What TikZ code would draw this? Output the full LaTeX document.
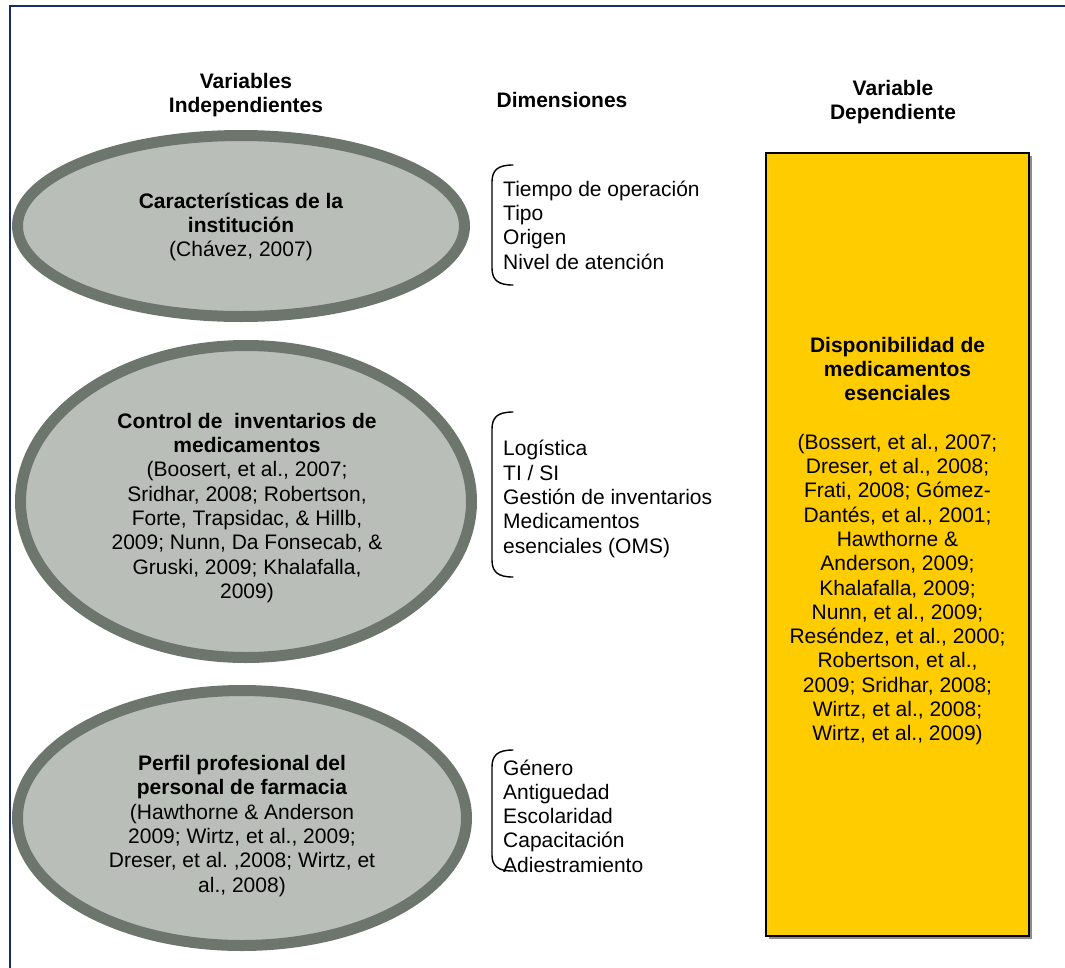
\documentclass[tikz,border=0pt]{standalone}
\usepackage{fontspec}
\setmainfont{Liberation Sans}
\usetikzlibrary{shapes.geometric}
\definecolor{framenavy}{RGB}{24,42,110}
\definecolor{ovalfill}{RGB}{186,190,185}
\definecolor{ovaledge}{RGB}{108,118,108}
\definecolor{boxyellow}{RGB}{255,204,0}
\frenchspacing
\begin{document}
\begin{tikzpicture}[x=1pt,y=-1pt,
  txt/.style={font=\fontsize{21}{24.3}\selectfont, inner sep=0pt, align=center},
  listtxt/.style={font=\fontsize{21}{24.3}\selectfont, inner sep=0pt, align=left, anchor=west},
  oval/.style={ellipse, draw=ovaledge, fill=ovalfill, line width=11pt, inner sep=0pt},
  depbox/.style={rectangle, draw=black, fill=boxyellow, line width=1.5pt, inner sep=0pt,
    minimum width=263pt, minimum height=783pt},
  bracketline/.style={draw=black, line width=1.4pt, line cap=round}
]
\useasboundingbox (0,0) rectangle (1065,967);
% outer frame (open at right and bottom)
\draw[framenavy, line width=2.2pt] (10,980) -- (10,6) -- (1080,6);

% column headings
\node[txt, font=\fontsize{21}{24.3}\selectfont\bfseries] (hind) at (246,95) {Variables\\Independientes};
\node[txt, font=\fontsize{21}{24.3}\selectfont\bfseries] (hdim) at (562,100) {Dimensiones};
\node[txt, font=\fontsize{21}{24.3}\selectfont\bfseries] (hdep) at (893,102) {Variable\\Dependiente};

% independent variables
\node[oval, minimum width=447pt, minimum height=181pt] (inst) at (241,226) {};
\node[txt] (instlbl) at (241,227) {\textbf{Características de la}\\\textbf{institución}\\(Chávez, 2007)};

\node[oval, minimum width=451pt, minimum height=312pt] (inv) at (246,501.5) {};
\node[txt] (invlbl) at (247,508) {\textbf{Control de\ \ inventarios de}\\\textbf{medicamentos}\\(Boosert, et al., 2007;\\Sridhar, 2008; Robertson,\\Forte, Trapsidac, \& Hillb,\\2009; Nunn, Da Fonsecab, \&\\Gruski, 2009; Khalafalla,\\2009)};

\node[oval, minimum width=449pt, minimum height=255pt] (perf) at (242,818) {};
\node[txt] (perflbl) at (242,826) {\textbf{Perfil profesional del}\\\textbf{personal de farmacia}\\(Hawthorne \& Anderson\\2009; Wirtz, et al., 2009;\\Dreser, et al. ,2008; Wirtz, et\\al., 2008)};

% dimensions with their brackets
\draw[bracketline] (513,165) .. controls (498,165) and (492,170) .. (492,182) -- (492,268) .. controls (492,280) and (498,285) .. (513,285);
\node[listtxt] (dim1) at (503,225) {Tiempo de operación\\Tipo\\Origen\\Nivel de atención};

\draw[bracketline] (513,412) .. controls (498,412) and (492,417) .. (492,429) -- (492,560) .. controls (492,572) and (498,577) .. (513,577);
\node[listtxt] (dim2) at (503,499) {Logística\\TI / SI\\Gestión de inventarios\\Medicamentos\\esenciales (OMS)};

\draw[bracketline] (513,750) .. controls (498,750) and (492,755) .. (492,767) -- (492,855) .. controls (492,866) and (498,871) .. (513,871);
\node[listtxt] (dim3) at (503,816) {Género\\Antiguedad\\Escolaridad\\Capacitación\\Adiestramiento};

% dependent variable
\fill[black!45] (769,156) rectangle (1031.5,938.5);
\node[depbox] (disp) at (897.5,544.5) {};
\node[txt] (displbl) at (897.5,541) {\textbf{Disponibilidad de}\\\textbf{medicamentos}\\\textbf{esenciales}\\[24.3pt](Bossert, et al., 2007;\\Dreser, et al., 2008;\\Frati, 2008; Gómez-\\Dantés, et al., 2001;\\Hawthorne \&\\Anderson, 2009;\\Khalafalla, 2009;\\Nunn, et al., 2009;\\Reséndez, et al., 2000;\\Robertson, et al.,\\2009; Sridhar, 2008;\\Wirtz, et al., 2008;\\Wirtz, et al., 2009)};
\end{tikzpicture}
\end{document}
